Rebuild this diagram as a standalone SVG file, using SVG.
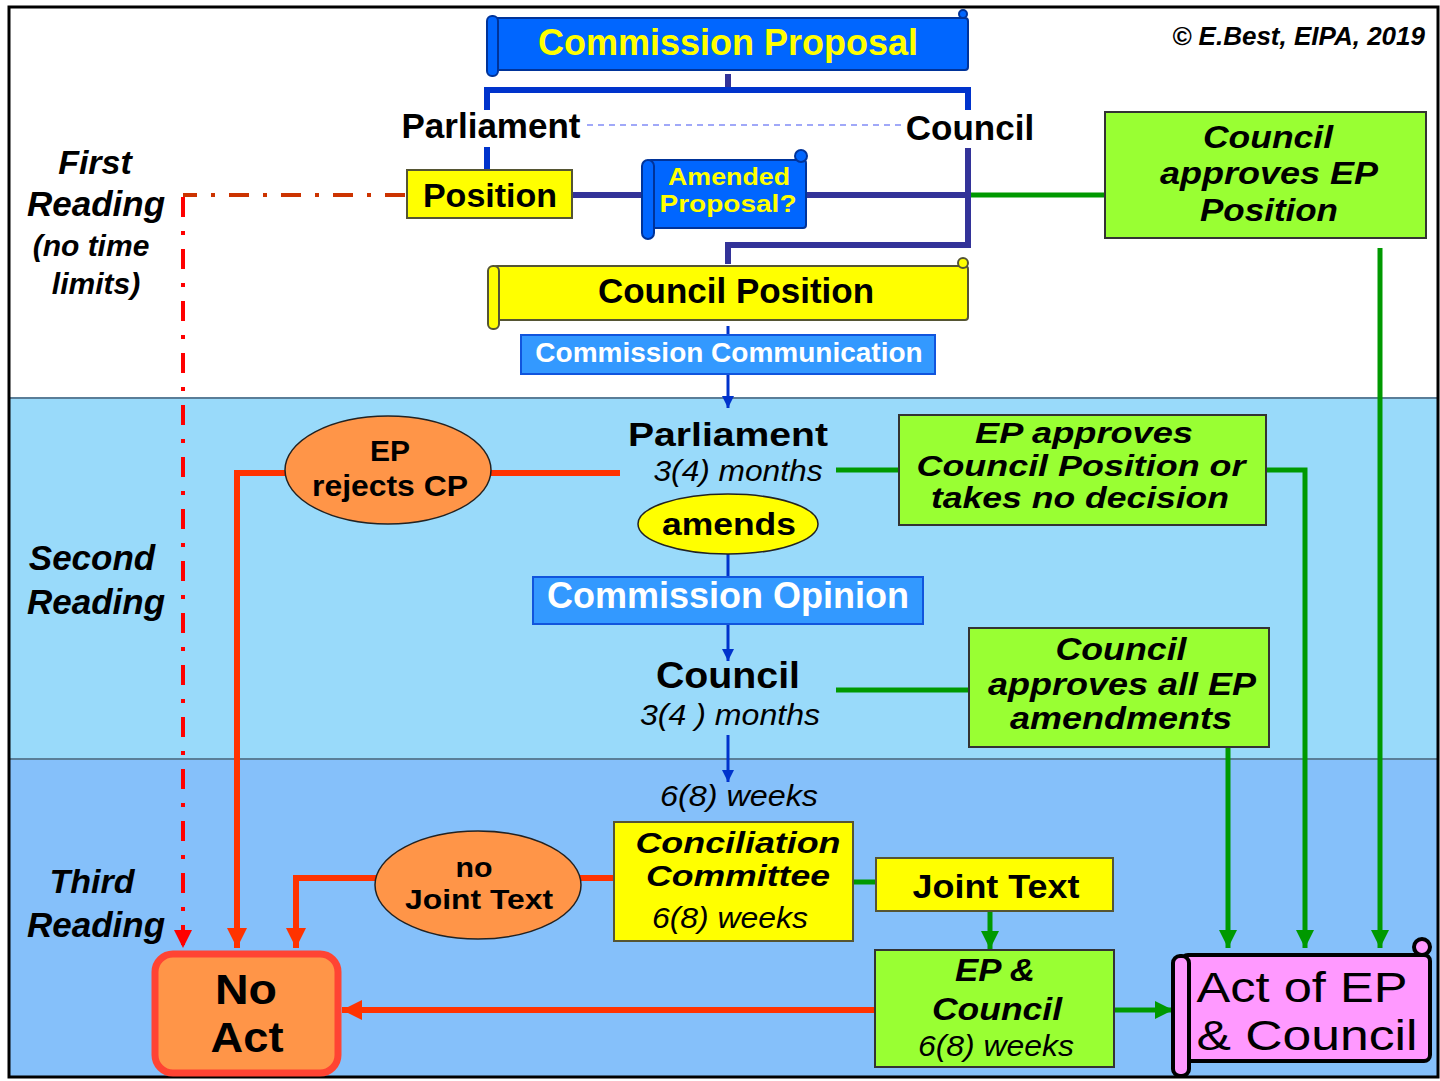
<svg xmlns="http://www.w3.org/2000/svg" width="1440" height="1081" viewBox="0 0 1440 1081">
<style>
text{font-family:"Liberation Sans",Arial,sans-serif;text-anchor:middle;fill:#000}
.b{font-weight:bold}
.i{font-style:italic}
.bi{font-weight:bold;font-style:italic}
.y{fill:#FFFF00}
.w{fill:#FFFFFF}
.blue{fill:#0066FF;stroke:#003399;stroke-width:2}
.yel{fill:#FFFF00;stroke:#555533;stroke-width:2}
.grn{fill:#99FF33;stroke:#333333;stroke-width:2}
.org{fill:#FF9548;stroke:#222;stroke-width:1.5}
.cb{fill:#3399FF;stroke:#1155DD;stroke-width:2}
.lb{fill:none;stroke:#0033CC;stroke-width:3}
.lg{fill:none;stroke:#009900;stroke-width:5}
.lr{fill:none;stroke:#FF3300;stroke-width:6}
</style>
<defs>
<marker id="ab" markerUnits="userSpaceOnUse" markerWidth="14" markerHeight="14" refX="12" refY="7" orient="auto"><path d="M0,1 L12,7 L0,13 Z" fill="#0033CC"/></marker>
<marker id="ag" markerUnits="userSpaceOnUse" markerWidth="20" markerHeight="20" refX="18" refY="10" orient="auto"><path d="M0,1 L18,10 L0,19 Z" fill="#009900"/></marker>
<marker id="ar" markerUnits="userSpaceOnUse" markerWidth="22" markerHeight="22" refX="20" refY="11" orient="auto"><path d="M0,1 L20,11 L0,21 Z" fill="#FF3300"/></marker>
<marker id="ard" markerUnits="userSpaceOnUse" markerWidth="20" markerHeight="20" refX="18" refY="10" orient="auto"><path d="M0,1 L18,10 L0,19 Z" fill="#FF0000"/></marker>
</defs>

<g id="background">
<rect x="9" y="7" width="1429" height="391" fill="#FFFFFF"/>
<rect x="9" y="398" width="1429" height="361" fill="#99DAFA"/>
<rect x="9" y="759" width="1429" height="318" fill="#85C0FA"/>
<line x1="9" y1="398" x2="1438" y2="398" stroke="#5A7E98" stroke-width="2"/>
<line x1="9" y1="759" x2="1438" y2="759" stroke="#5A7E98" stroke-width="2"/>
<rect x="9" y="7" width="1429" height="1070" fill="none" stroke="#000" stroke-width="3"/>
</g>

<g id="labels">
<text class="bi" x="1425" y="45" font-size="26" style="text-anchor:end">© E.Best, EIPA, 2019</text>
<text class="bi" x="95" y="174" font-size="34">First</text>
<text class="bi" x="96" y="216" font-size="35">Reading</text>
<text class="bi" x="91" y="256" font-size="30">(no time</text>
<text class="bi" x="96" y="294" font-size="30">limits)</text>
<text class="bi" x="92" y="570" font-size="35">Second</text>
<text class="bi" x="96" y="614" font-size="35">Reading</text>
<text class="bi" x="92" y="893" font-size="34">Third</text>
<text class="bi" x="96" y="937" font-size="35">Reading</text>
</g>

<g id="connectors">
<line x1="728" y1="74" x2="728" y2="90" stroke="#333399" stroke-width="6"/>
<path d="M487,110 V90 H968 V110" fill="none" stroke="#0033CC" stroke-width="6"/>
<line x1="587" y1="125" x2="903" y2="125" stroke="#A0A8F8" stroke-width="2" stroke-dasharray="6 5"/>
<line x1="487" y1="147" x2="487" y2="172" stroke="#0033CC" stroke-width="6"/>
<path d="M968,148 V245 H728 V264" fill="none" stroke="#333399" stroke-width="6"/>
<line x1="572" y1="195" x2="645" y2="195" stroke="#333399" stroke-width="6"/>
<line x1="806" y1="195" x2="968" y2="195" stroke="#333399" stroke-width="6"/>
<line x1="971" y1="195" x2="1106" y2="195" class="lg"/>
<line x1="728" y1="326" x2="728" y2="408" class="lb" marker-end="url(#ab)"/>
<path d="M405,195 H183" fill="none" stroke="#CC3300" stroke-width="4" stroke-dasharray="20 14 4 14"/>
<path d="M183,197 V948" fill="none" stroke="#FF0000" stroke-width="4" stroke-dasharray="20 14 4 14" marker-end="url(#ard)"/>
<path d="M620,473 H237 V948" class="lr" marker-end="url(#ar)"/>
<line x1="836" y1="470" x2="900" y2="470" class="lg"/>
<path d="M1266,470 H1305 V948" class="lg" marker-end="url(#ag)"/>
<line x1="728" y1="552" x2="728" y2="578" class="lb"/>
<line x1="728" y1="624" x2="728" y2="661" class="lb" marker-end="url(#ab)"/>
<line x1="836" y1="690" x2="970" y2="690" class="lg"/>
<line x1="1228" y1="747" x2="1228" y2="948" class="lg" marker-end="url(#ag)"/>
<line x1="1380" y1="248" x2="1380" y2="948" class="lg" marker-end="url(#ag)"/>
<line x1="728" y1="735" x2="728" y2="782" class="lb" marker-end="url(#ab)"/>
<path d="M614,878 H296 V948" class="lr" marker-end="url(#ar)"/>
<line x1="853" y1="882" x2="877" y2="882" class="lg"/>
<line x1="990" y1="911" x2="990" y2="949" class="lg" marker-end="url(#ag)"/>
<line x1="875" y1="1010" x2="342" y2="1010" class="lr" marker-end="url(#ar)"/>
<line x1="1114" y1="1010" x2="1173" y2="1010" class="lg" marker-end="url(#ag)"/>
</g>

<g id="commission-proposal">
<rect x="494" y="18" width="474" height="52" rx="3" class="blue"/>
<rect x="487" y="16" width="11" height="60" rx="5" class="blue"/>
<circle cx="963" cy="14" r="4" class="blue"/>
<text class="b y" x="728" y="55" font-size="36">Commission Proposal</text>
</g>

<g id="parliament-label"><text class="b" x="491" y="138" font-size="35">Parliament</text></g>
<g id="council-label"><text class="b" x="970" y="140" font-size="35">Council</text></g>

<g id="position">
<rect x="407" y="170" width="165" height="48" class="yel"/>
<text class="b" x="490" y="207" font-size="34">Position</text>
</g>

<g id="amended-proposal">
<rect x="648" y="160" width="158" height="68" rx="3" class="blue"/>
<rect x="642" y="160" width="12" height="79" rx="6" class="blue"/>
<circle cx="801" cy="156" r="6" class="blue"/>
<text class="b y" x="729" y="185" font-size="24" textLength="122" lengthAdjust="spacingAndGlyphs">Amended</text>
<text class="b y" x="728" y="212" font-size="24" textLength="137" lengthAdjust="spacingAndGlyphs">Proposal?</text>
</g>

<g id="council-approves-ep-position">
<rect x="1105" y="112" width="321" height="126" class="grn"/>
<text class="bi" x="1268" y="148" font-size="31" textLength="130" lengthAdjust="spacingAndGlyphs">Council</text>
<text class="bi" x="1269" y="184" font-size="31" textLength="218" lengthAdjust="spacingAndGlyphs">approves EP</text>
<text class="bi" x="1269" y="221" font-size="31" textLength="138" lengthAdjust="spacingAndGlyphs">Position</text>
</g>

<g id="council-position">
<rect x="494" y="266" width="474" height="54" rx="3" class="yel"/>
<rect x="488" y="266" width="11" height="63" rx="5" class="yel"/>
<circle cx="963" cy="263" r="5" class="yel"/>
<text class="b" x="736" y="303" font-size="35">Council Position</text>
</g>

<g id="commission-communication">
<rect x="521" y="335" width="414" height="39" class="cb"/>
<text class="b w" x="729" y="362" font-size="28">Commission Communication</text>
</g>

<g id="parliament-2">
<text class="b" x="728" y="446" font-size="34" textLength="200" lengthAdjust="spacingAndGlyphs">Parliament</text>
<text class="i" x="738" y="481" font-size="30" textLength="169" lengthAdjust="spacingAndGlyphs">3(4) months</text>
</g>

<g id="ep-rejects-cp">
<ellipse cx="388" cy="470" rx="103" ry="54" class="org"/>
<text class="b" x="390" y="461" font-size="30" textLength="40" lengthAdjust="spacingAndGlyphs">EP</text>
<text class="b" x="390" y="496" font-size="30" textLength="156" lengthAdjust="spacingAndGlyphs">rejects CP</text>
</g>

<g id="ep-approves">
<rect x="899" y="415" width="367" height="110" class="grn"/>
<text class="bi" x="1084" y="443" font-size="29" textLength="218" lengthAdjust="spacingAndGlyphs">EP approves</text>
<text class="bi" x="1081" y="476" font-size="29" textLength="329" lengthAdjust="spacingAndGlyphs">Council Position or</text>
<text class="bi" x="1080" y="508" font-size="29" textLength="298" lengthAdjust="spacingAndGlyphs">takes no decision</text>
</g>

<g id="amends">
<ellipse cx="728" cy="524" rx="90" ry="30" fill="#FFFF00" stroke="#222" stroke-width="1.5"/>
<text class="b" x="729" y="535" font-size="32" textLength="134" lengthAdjust="spacingAndGlyphs">amends</text>
</g>

<g id="commission-opinion">
<rect x="533" y="577" width="390" height="47" class="cb"/>
<text class="b w" x="728" y="608" font-size="36">Commission Opinion</text>
</g>

<g id="council-2">
<text class="b" x="728" y="688" font-size="36" textLength="144" lengthAdjust="spacingAndGlyphs">Council</text>
<text class="i" x="730" y="725" font-size="30" textLength="180" lengthAdjust="spacingAndGlyphs">3(4 ) months</text>
</g>

<g id="council-approves-all">
<rect x="969" y="628" width="300" height="119" class="grn"/>
<text class="bi" x="1121" y="660" font-size="31" textLength="131" lengthAdjust="spacingAndGlyphs">Council</text>
<text class="bi" x="1122" y="695" font-size="31" textLength="268" lengthAdjust="spacingAndGlyphs">approves all EP</text>
<text class="bi" x="1121" y="729" font-size="31" textLength="222" lengthAdjust="spacingAndGlyphs">amendments</text>
</g>

<g id="weeks-label"><text class="i" x="739" y="806" font-size="30" textLength="158" lengthAdjust="spacingAndGlyphs">6(8) weeks</text></g>

<g id="conciliation-committee">
<rect x="614" y="822" width="239" height="119" class="yel"/>
<text class="bi" x="738" y="853" font-size="29" textLength="205" lengthAdjust="spacingAndGlyphs">Conciliation</text>
<text class="bi" x="738" y="886" font-size="29" textLength="184" lengthAdjust="spacingAndGlyphs">Committee</text>
<text class="i" x="730" y="928" font-size="30" textLength="156" lengthAdjust="spacingAndGlyphs">6(8) weeks</text>
</g>

<g id="no-joint-text">
<ellipse cx="478" cy="885" rx="103" ry="54" class="org"/>
<text class="b" x="474" y="877" font-size="28" textLength="37" lengthAdjust="spacingAndGlyphs">no</text>
<text class="b" x="479" y="909" font-size="28" textLength="148" lengthAdjust="spacingAndGlyphs">Joint Text</text>
</g>

<g id="joint-text">
<rect x="876" y="858" width="237" height="53" class="yel"/>
<text class="b" x="996" y="898" font-size="33" textLength="167" lengthAdjust="spacingAndGlyphs">Joint Text</text>
</g>

<g id="ep-council">
<rect x="875" y="950" width="239" height="117" class="grn"/>
<text class="bi" x="995" y="981" font-size="32" textLength="80" lengthAdjust="spacingAndGlyphs">EP &amp;</text>
<text class="bi" x="997" y="1020" font-size="32" textLength="130" lengthAdjust="spacingAndGlyphs">Council</text>
<text class="i" x="996" y="1056" font-size="30" textLength="156" lengthAdjust="spacingAndGlyphs">6(8) weeks</text>
</g>

<g id="no-act">
<rect x="155" y="954" width="183" height="119" rx="18" fill="#FF9548" stroke="#FF4433" stroke-width="7"/>
<text class="b" x="246" y="1004" font-size="42" textLength="62" lengthAdjust="spacingAndGlyphs">No</text>
<text class="b" x="247" y="1052" font-size="42" textLength="73" lengthAdjust="spacingAndGlyphs">Act</text>
</g>

<g id="act-of-ep-council">
<rect x="1182" y="955" width="248" height="106" rx="6" fill="#FF99FF" stroke="#000" stroke-width="4"/>
<circle cx="1422" cy="947" r="8" fill="#FF99FF" stroke="#000" stroke-width="4"/>
<rect x="1173" y="956" width="16" height="120" rx="7" fill="#FF99FF" stroke="#000" stroke-width="4"/>
<text x="1302" y="1002" font-size="43" textLength="211" lengthAdjust="spacingAndGlyphs">Act of EP</text>
<text x="1307" y="1050" font-size="43" textLength="221" lengthAdjust="spacingAndGlyphs">&amp; Council</text>
</g>
</svg>
